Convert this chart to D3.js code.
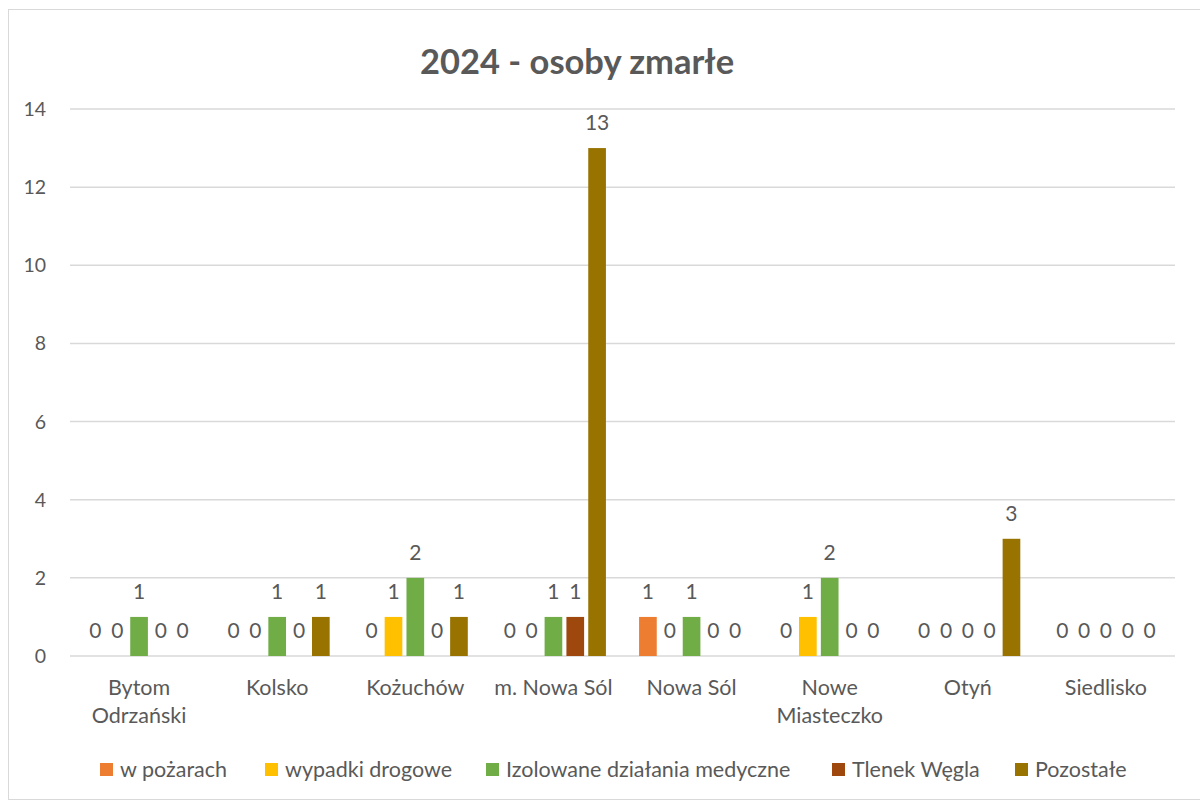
<!DOCTYPE html>
<html>
<head>
<meta charset="utf-8">
<script src="https://cdn.jsdelivr.net/npm/d3@7"></script>
<style>
body { margin: 0; background: #fff; }
text { font-family: Lato, "Liberation Sans", sans-serif; fill: #595959; }
</style>
</head>
<body>
<script>
var w = 1200;
var h = 802;

var categories = [["Bytom", "Odrzański"], ["Kolsko"], ["Kożuchów"], ["m. Nowa Sól"], ["Nowa Sól"], ["Nowe", "Miasteczko"], ["Otyń"], ["Siedlisko"]];
var seriesNames = ["w pożarach", "wypadki drogowe", "Izolowane działania medyczne", "Tlenek Węgla", "Pozostałe"];
var colors = ["#ED7D31", "#FFC000", "#70AD47", "#9E480E", "#997300"];
var pozary = [0, 0, 0, 0, 1, 0, 0, 0];
var drogowe = [0, 0, 1, 0, 0, 1, 0, 0];
var medyczne = [1, 1, 2, 1, 1, 2, 0, 0];
var tlenek = [0, 0, 0, 1, 0, 0, 0, 0];
var pozostale = [0, 1, 1, 13, 0, 0, 3, 0];
var yTicks = [0, 2, 4, 6, 8, 10, 12, 14];

var series = [pozary, drogowe, medyczne, tlenek, pozostale];

var margin = {left: 70, right: 25, top: 109, bottom: 146};

var svg = d3.select("body").append("svg")
    .attr("width", w)
    .attr("height", h);

// chart border
svg.append("rect")
    .attr("x", 8.5).attr("y", 9.5)
    .attr("width", 1200).attr("height", 790)
    .attr("fill", "none")
    .attr("stroke", "#d9d9d9");

var x0 = d3.scaleBand()
    .domain(d3.range(categories.length))
    .range([margin.left, w - margin.right])
    .paddingInner(0.24)
    .paddingOuter(0.12);

var x1 = d3.scaleBand()
    .domain(d3.range(series.length))
    .range([0, x0.bandwidth()])
    .paddingInner(0.19);

var y = d3.scaleLinear()
    .domain([0, 14])
    .range([h - margin.bottom, margin.top]);

// gridlines
svg.selectAll("line.grid")
    .data(yTicks)
    .enter()
    .append("line")
    .attr("x1", margin.left)
    .attr("x2", w - margin.right)
    .attr("y1", function(d){ return y(d); })
    .attr("y2", function(d){ return y(d); })
    .attr("stroke", "#d9d9d9")
    .attr("stroke-width", 1.5);

svg.selectAll("text.ytick")
    .data(yTicks)
    .enter()
    .append("text")
    .text(function(d){ return d; })
    .attr("x", 46)
    .attr("y", function(d){ return y(d) + 7; })
    .attr("text-anchor", "end")
    .attr("font-size", 19.5);

// bars
var groups = svg.selectAll("g.cat")
    .data(categories)
    .enter()
    .append("g")
    .attr("transform", function(d, i){ return "translate(" + x0(i) + ",0)"; });

groups.each(function(c, ci){
    var g = d3.select(this);
    series.forEach(function(s, si){
        var v = s[ci];
        if (v > 0) {
            g.append("rect")
                .attr("x", x1(si))
                .attr("y", y(v))
                .attr("width", x1.bandwidth())
                .attr("height", y(0) - y(v))
                .attr("fill", colors[si]);
        }
        g.append("text")
            .text(v)
            .attr("x", x1(si) + x1.bandwidth() / 2)
            .attr("y", y(v) - 18)
            .attr("text-anchor", "middle")
            .attr("font-size", 21)
            .attr("fill", "#404040");
    });
});

// category labels
svg.selectAll("text.cat")
    .data(categories)
    .enter()
    .append("text")
    .attr("x", function(d, i){ return x0(i) + x0.bandwidth() / 2; })
    .attr("y", 695)
    .attr("text-anchor", "middle")
    .attr("font-size", 21.5)
    .each(function(d){
        var t = d3.select(this);
        d.forEach(function(line, li){
            t.append("tspan")
                .attr("x", t.attr("x"))
                .attr("dy", li === 0 ? 0 : 28)
                .text(line);
        });
    });

// title
svg.append("text")
    .text("2024 - osoby zmarłe")
    .attr("x", 577)
    .attr("y", 74)
    .attr("text-anchor", "middle")
    .attr("font-size", 34.5)
    .attr("font-weight", "bold");

// legend
var legendX = [100, 265, 486, 832, 1015];
var legend = svg.selectAll("g.legend")
    .data(seriesNames)
    .enter()
    .append("g")
    .attr("transform", function(d, i){ return "translate(" + legendX[i] + ",763)"; });

legend.append("rect")
    .attr("width", 13).attr("height", 13)
    .attr("fill", function(d, i){ return colors[i]; });

legend.append("text")
    .text(function(d){ return d; })
    .attr("x", 20)
    .attr("y", 14)
    .attr("font-size", 21.5);
</script>
</body>
</html>
